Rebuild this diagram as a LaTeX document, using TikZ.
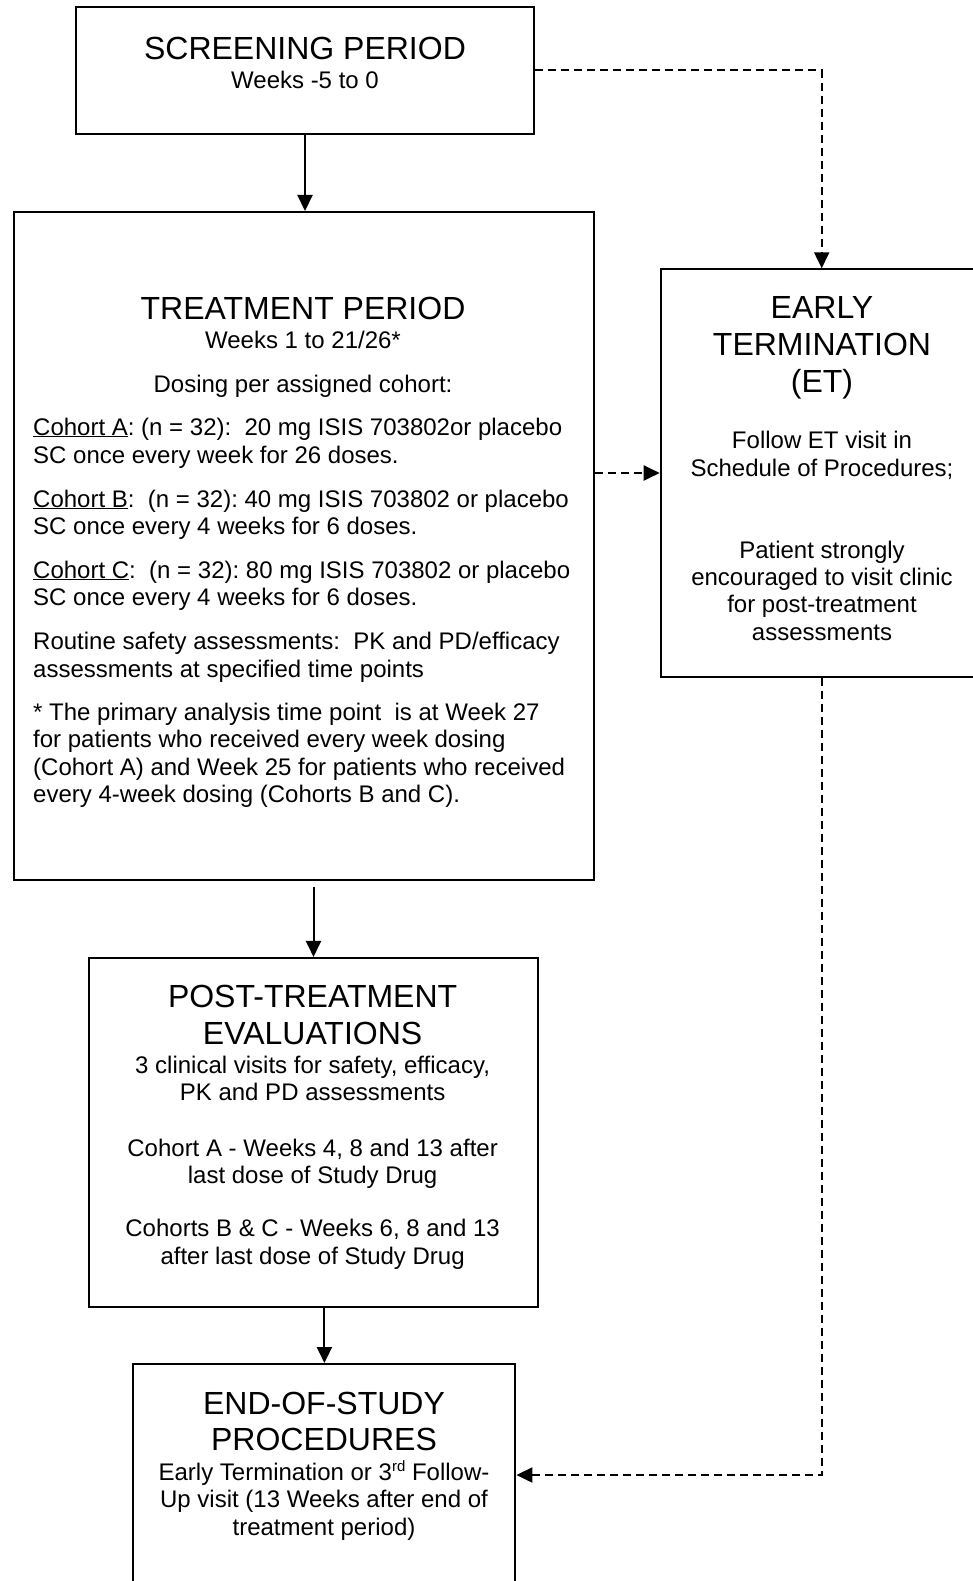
\documentclass[tikz,border=0pt]{standalone}
\usepackage{fontspec}
\setmainfont{Liberation Sans}
\usetikzlibrary{arrows.meta}
\frenchspacing
\begin{document}
\begin{tikzpicture}[x=1pt,y=-1pt,
  box/.style={draw, line width=2pt, rectangle, inner sep=0pt},
  ttl/.style={anchor=base, inner sep=0pt, font=\fontsize{32}{37}\selectfont},
  bod/.style={anchor=base, inner sep=0pt, font=\fontsize{24}{27.5}\selectfont},
  bodl/.style={anchor=base west, inner sep=0pt, font=\fontsize{24}{27.5}\selectfont},
  arr/.style={line width=2pt, -{Triangle[length=16pt,width=15pt]}},
  darr/.style={line width=2pt, dash pattern=on 8pt off 5pt, -{Triangle[length=16pt,width=15pt]}},
]
\useasboundingbox (0,0) rectangle (973,1581);
\clip (0,0) rectangle (973,1581);

% boxes
\node[box, minimum width=458pt, minimum height=127pt] (scr) at (305,70.5) {};
\node[box, minimum width=580.4pt, minimum height=668pt] (trt) at (303.8,546) {};
\node[box, minimum width=322pt, minimum height=407.4pt] (et) at (821.7,473) {};
\node[box, minimum width=449.7pt, minimum height=348.9pt] (post) at (313.5,1132.4) {};
\node[box, minimum width=382pt, minimum height=222pt] (end) at (324.4,1475) {};

% screening texts
\node[ttl] (s1) at (305,60) {SCREENING PERIOD};
\node[bod] (s2) at (305,89) {Weeks -5 to 0};

% treatment texts
\node[ttl] (t1) at (303,319) {TREATMENT PERIOD};
\node[bod] (t2) at (303,348.4) {Weeks 1 to 21/26*};
\node[bod] (t3) at (303,392.6) {Dosing per assigned cohort:};
\node[bodl] (t4) at (33,435) {\underline{Cohort A}: (n = 32):\ \ 20 mg ISIS 703802or placebo};
\node[bodl] (t5) at (33,463) {SC once every week for 26 doses.};
\node[bodl] (t6) at (33,507) {\underline{Cohort B}:\ \ (n = 32): 40 mg ISIS 703802 or placebo};
\node[bodl] (t7) at (33,534) {SC once every 4 weeks for 6 doses.};
\node[bodl] (t8) at (33,578) {\underline{Cohort C}:\ \ (n = 32): 80 mg ISIS 703802 or placebo};
\node[bodl] (t9) at (33,605) {SC once every 4 weeks for 6 doses.};
\node[bodl] (t10) at (33,649.5) {Routine safety assessments:\ \ PK and PD/efficacy};
\node[bodl] (t11) at (33,677) {assessments at specified time points};
\node[bodl] (t12) at (33,720) {* The primary analysis time point\ \ is at Week 27};
\node[bodl] (t13) at (33,747.5) {for patients who received every week dosing};
\node[bodl] (t14) at (33,775) {(Cohort A) and Week 25 for patients who received};
\node[bodl] (t15) at (33,802.5) {every 4-week dosing (Cohorts B and C).};

% early termination texts
\node[ttl] (e1) at (822,318.5) {EARLY};
\node[ttl] (e2) at (822,355.5) {TERMINATION};
\node[ttl] (e3) at (822,392.5) {(ET)};
\node[bod] (e4) at (822,448) {Follow ET visit in};
\node[bod] (e5) at (822,476) {Schedule of Procedures;};
\node[bod] (e6) at (822,558) {Patient strongly};
\node[bod] (e7) at (822,585.5) {encouraged to visit clinic};
\node[bod] (e8) at (822,612.6) {for post-treatment};
\node[bod] (e9) at (822,640) {assessments};

% post-treatment texts
\node[ttl] (p1) at (312.6,1007.7) {POST-TREATMENT};
\node[ttl] (p2) at (312.6,1044) {EVALUATIONS};
\node[bod] (p3) at (312.6,1073.4) {3 clinical visits for safety, efficacy,};
\node[bod] (p4) at (312.6,1100.6) {PK and PD assessments};
\node[bod] (p5) at (312.6,1156) {Cohort A - Weeks 4, 8 and 13 after};
\node[bod] (p6) at (312.6,1183.3) {last dose of Study Drug};
\node[bod] (p7) at (312.6,1236.7) {Cohorts B \& C - Weeks 6, 8 and 13};
\node[bod] (p8) at (312.6,1264) {after last dose of Study Drug};

% end-of-study texts
\node[ttl] (f1) at (324,1414) {END-OF-STUDY};
\node[ttl] (f2) at (324,1450) {PROCEDURES};
\node[bod] (f3) at (324,1480) {Early Termination or 3\raisebox{9pt}{\fontsize{15}{15}\selectfont rd} Follow-};
\node[bod] (f4) at (324,1507.5) {Up visit (13 Weeks after end of};
\node[bod] (f5) at (324,1535) {treatment period)};

% connectors
\draw[arr] (scr.south) -- (scr.south |- trt.north);
\draw[darr] (scr.east) -| (et.north);
\draw[darr] (et.west -| trt.east) -- (et.west);
\draw[arr, shorten <=6pt] (post.north |- trt.south) -- (post.north);
\draw[arr] (end.north |- post.south) -- (end.north);
\draw[darr] (et.south) |- (end.east);
\end{tikzpicture}
\end{document}
